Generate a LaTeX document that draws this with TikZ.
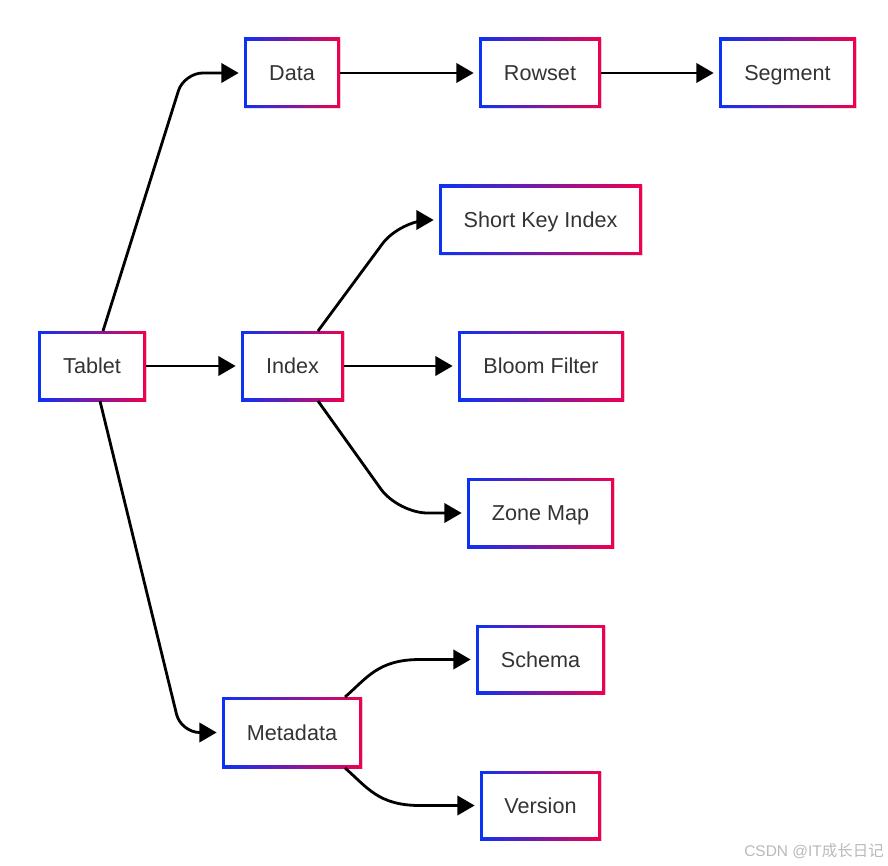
\documentclass[tikz,border=0pt]{standalone}
\usepackage{fontspec}
\setmainfont{Liberation Sans}
\newfontfamily\cjk{Noto Sans CJK SC}
\usetikzlibrary{arrows.meta,calc,shadows}
\definecolor{gblue}{RGB}{10,50,245}
\definecolor{gred}{RGB}{240,0,80}
\definecolor{txt}{RGB}{51,51,51}
\newcommand\gnode[6]{%
  \node[outerbox, minimum width={#4*0.75pt}, minimum height={#5*0.75pt}] (#1) at (#2,#3) {};
  \node[innerbox, minimum width={(#4-6)*0.75pt}, minimum height={(#5-6)*0.75pt}] (#1-t) at (#1) {#6};
}
\begin{document}
\begin{tikzpicture}[x=0.75pt,y=-0.75pt,
  outerbox/.style={inner sep=0pt, outer sep=0pt, left color=gblue, right color=gred, draw=none,
    drop shadow={shadow xshift=0.8pt, shadow yshift=-0.8pt, fill=black, opacity=0.10}},
  innerbox/.style={inner sep=0pt, outer sep=0pt, fill=white, text=txt, text height=11.6pt, text depth=0pt,
    font=\fontsize{16.2}{19}\selectfont},
  conn/.style={line width=2.1pt, -{Triangle[length=13pt,width=14.5pt]}, shorten >=4pt, rounded corners=14pt}]
\useasboundingbox[fill=white] (0,0) rectangle (888,866);

\gnode{tablet}{92}{366}{108}{70}{Tablet}
\gnode{data}{292}{73}{96}{70}{Data}
\gnode{rowset}{540}{73}{122}{70}{Rowset}
\gnode{segment}{787.5}{73}{137}{70}{Segment}
\gnode{ski}{540.5}{220}{203}{70}{Short Key Index}
\gnode{index}{292.5}{366}{103}{70}{Index}
\gnode{bloom}{541}{366}{166}{70}{Bloom Filter}
\gnode{zone}{540.5}{513}{147}{70}{Zone Map}
\gnode{schema}{540.5}{659.5}{129}{69}{Schema}
\gnode{meta}{292}{732.5}{140}{71}{Metadata}
\gnode{version}{540.5}{805.5}{121}{69}{Version}

\draw[conn] ($(tablet.north)+(11,0)$) -- ($(data.west)+(-60,0)$) -- (data.west);
\draw[conn] ($(tablet.south)+(8,0)$) -- ($(meta.west)+(-41,0)$) -- (meta.west);
\draw[conn] (tablet.east) -- (index.west);
\draw[conn] (data.east) -- (rowset.west);
\draw[conn] (rowset.east) -- (segment.west);
\draw[conn] (index.east) -- (bloom.west);
\draw[conn,rounded corners=22pt] ($(index.north)+(25.5,0)$) -- ($(ski.west)+(-39,0)$) -- (ski.west);
\draw[conn,rounded corners=22pt] ($(index.south)+(25.5,0)$) -- ($(zone.west)+(-69,0)$) -- (zone.west);
\draw[conn,sharp corners] ($(meta.north)+(53,0)$) .. controls +(22,-19) and +(-42,0) .. ($(schema.west)+(-56,0)$) -- (schema.west);
\draw[conn,sharp corners] ($(meta.south)+(53,0)$) .. controls +(22,19) and +(-42,0) .. ($(version.west)+(-60,0)$) -- (version.west);

\node[anchor=east, text=black!27, font=\fontsize{11.6}{13}\selectfont, inner sep=0pt] (wm) at (884,851) {CSDN @IT{\cjk 成长日记}};
\end{tikzpicture}
\end{document}
